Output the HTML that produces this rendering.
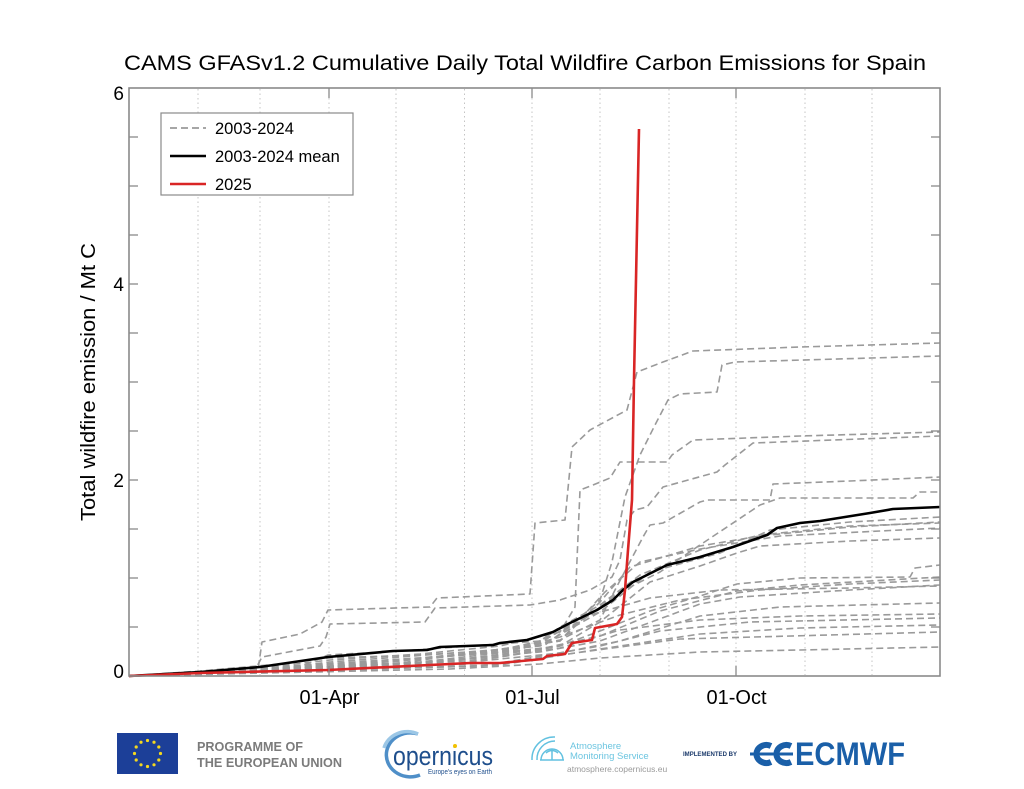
<!DOCTYPE html>
<html><head><meta charset="utf-8"><style>
html,body{margin:0;padding:0;background:#fff;}
svg{display:block;font-family:"Liberation Sans",Arial,sans-serif;}
</style></head><body>
<svg width="1024" height="789" viewBox="0 0 1024 789" xmlns="http://www.w3.org/2000/svg">
<rect width="1024" height="789" fill="#fff"/>
<text x="525" y="70" font-size="21" text-anchor="middle" textLength="802" lengthAdjust="spacingAndGlyphs" fill="#000">CAMS GFASv1.2 Cumulative Daily Total Wildfire Carbon Emissions for Spain</text>

<!-- grid -->
<g stroke="#c4c4c4" stroke-width="1" stroke-dasharray="1.5,3">
<line x1="198" y1="89" x2="198" y2="675"/>
<line x1="260" y1="89" x2="260" y2="675"/>
<line x1="329" y1="89" x2="329" y2="675"/>
<line x1="396" y1="89" x2="396" y2="675"/>
<line x1="464.5" y1="89" x2="464.5" y2="675"/>
<line x1="532" y1="89" x2="532" y2="675"/>
<line x1="600" y1="89" x2="600" y2="675"/>
<line x1="669" y1="89" x2="669" y2="675"/>
<line x1="736" y1="89" x2="736" y2="675"/>
<line x1="805" y1="89" x2="805" y2="675"/>
<line x1="872" y1="89" x2="872" y2="675"/>
</g>

<!-- gray series -->
<g fill="none" stroke="#9a9a9a" stroke-width="1.6" stroke-dasharray="7,4" stroke-linejoin="round">
<polyline points="129,676 200,674 258,670 262,642 300,634 322,622 328,610 430,607 437,598 530,594 535,523 565,520 572,447 590,430 627,410 637,372 663,362 693,351 800,347 940,343"/>
<polyline points="129,676 260,671 330,664 420,658 500,650 545,640 575,622 600,600 612,562 625,497 640,455 655,425 668,400 680,394 717,392 722,365 735,362 940,356"/>
<polyline points="129,676 260,668 330,660 420,654 500,646 560,632 575,607 580,490 593,485 610,478 620,462 667,462 672,455 693,440 800,436 940,432"/>
<polyline points="129,676 255,670 262,657 320,646 326,637 330,624 425,622 435,608 530,605 560,600 590,590 612,577 620,560 627,520 635,510 647,507 663,487 717,472 725,465 753,443 940,436"/>
<polyline points="129,676 330,666 500,652 560,640 600,620 615,590 643,537 650,525 663,523 700,502 707,500 770,500 773,484 850,481 940,477"/>
<polyline points="129,676 330,667 520,650 580,622 620,592 660,572 700,545 760,505 780,498 913,498 920,492 940,492"/>
<polyline points="129,676 400,661 540,646 600,612 650,572 720,553 770,530 850,522 940,517"/>
<polyline points="129,676 400,663 560,641 600,602 630,567 700,546 760,536 850,527 940,522"/>
<polyline points="129,676 450,656 560,641 605,592 640,562 700,549 780,536 940,528"/>
<polyline points="129,676 420,662 560,646 600,622 650,582 700,566 737,553 760,546 850,541 940,538"/>
<polyline points="129,676 330,668 500,657 560,646 600,631 650,611 700,596 737,584 800,578 910,577 915,568 940,565"/>
<polyline points="129,676 450,661 540,649 600,636 660,611 737,591 800,585 940,577"/>
<polyline points="129,676 400,664 540,652 600,641 700,604 740,597 850,590 940,585"/>
<polyline points="129,676 450,664 560,653 620,641 700,616 780,607 940,603"/>
<polyline points="129,676 500,663 600,646 660,631 750,622 940,618"/>
<polyline points="129,676 500,665 600,649 700,634 800,628 940,625"/>
<polyline points="129,676 450,669 540,664 600,658 700,652 800,650 940,647"/>
<polyline points="129,676 480,666 590,651 680,639 940,632"/>
<polyline points="129,676 300,667 328,655 400,651 470,646 540,641 560,627 600,605 640,575 700,550 760,535 850,526 940,523"/>
<polyline points="129,676 250,672 330,662 400,657 520,648 560,637 620,615 680,600 760,590 850,584 940,580"/>
<polyline points="129,676 350,668 480,660 560,648 620,630 700,620 800,616 940,614"/>
<polyline points="129,676 200,671 280,664 328,658 420,655 500,650 545,645 565,630 590,615 650,598 720,590 850,588 940,586"/>
</g>

<!-- mean -->
<polyline fill="none" stroke="#000" stroke-width="2.6" stroke-linejoin="round" points="129,676 200,672 260,667 328,657 393,651 427,650 440,647 493,645 500,643 527,640 553,632 570,623 597,610 613,600 623,590 633,582 643,577 667,565 700,557 733,547 767,535 777,528 800,523 820,521 870,513 893,509 940,507"/>

<!-- 2025 -->
<polyline fill="none" stroke="#d92525" stroke-width="2.6" stroke-linejoin="round" points="129,676 200,673 328,670 470,663 500,663 543,659 547,656 565,654 572,643 592,640 595,628 617,624 622,617 625,590 628,550 632,500 634,380 639,129"/>

<!-- frame -->
<rect x="129" y="88" width="811" height="588" fill="none" stroke="#8a8a8a" stroke-width="1.6"/>
<g stroke="#8a8a8a" stroke-width="1.3">
<line x1="129" y1="676" x2="138" y2="676"/><line x1="129" y1="627" x2="138" y2="627"/><line x1="129" y1="578" x2="138" y2="578"/><line x1="129" y1="529" x2="138" y2="529"/><line x1="129" y1="480" x2="138" y2="480"/><line x1="129" y1="431" x2="138" y2="431"/><line x1="129" y1="382" x2="138" y2="382"/><line x1="129" y1="333" x2="138" y2="333"/><line x1="129" y1="284" x2="138" y2="284"/><line x1="129" y1="235" x2="138" y2="235"/><line x1="129" y1="186" x2="138" y2="186"/><line x1="129" y1="137" x2="138" y2="137"/>
<line x1="931" y1="627" x2="940" y2="627"/><line x1="931" y1="578" x2="940" y2="578"/><line x1="931" y1="529" x2="940" y2="529"/><line x1="931" y1="480" x2="940" y2="480"/><line x1="931" y1="431" x2="940" y2="431"/><line x1="931" y1="382" x2="940" y2="382"/><line x1="931" y1="333" x2="940" y2="333"/><line x1="931" y1="284" x2="940" y2="284"/><line x1="931" y1="235" x2="940" y2="235"/><line x1="931" y1="186" x2="940" y2="186"/><line x1="931" y1="137" x2="940" y2="137"/>
<line x1="329" y1="676" x2="329" y2="666"/><line x1="532" y1="676" x2="532" y2="666"/><line x1="736" y1="676" x2="736" y2="666"/>
<line x1="329" y1="88" x2="329" y2="98"/><line x1="532" y1="88" x2="532" y2="98"/><line x1="736" y1="88" x2="736" y2="98"/>
</g>

<!-- tick labels -->
<g font-size="19" fill="#000" text-anchor="end">
<text x="124" y="678">0</text>
<text x="124" y="487">2</text>
<text x="124" y="291">4</text>
<text x="124" y="100">6</text>
</g>
<g font-size="20" fill="#000" text-anchor="middle">
<text x="329.5" y="704">01-Apr</text>
<text x="532.5" y="704">01-Jul</text>
<text x="736.5" y="704">01-Oct</text>
</g>
<text transform="translate(95,382) rotate(-90)" font-size="20" text-anchor="middle" textLength="278" lengthAdjust="spacingAndGlyphs" fill="#000">Total wildfire emission / Mt C</text>

<!-- legend -->
<rect x="161" y="113" width="192" height="82" fill="#fff" stroke="#8a8a8a" stroke-width="1.2"/>
<line x1="170" y1="128" x2="206" y2="128" stroke="#9a9a9a" stroke-width="1.8" stroke-dasharray="7,4"/>
<line x1="170" y1="156" x2="206" y2="156" stroke="#000" stroke-width="2.6"/>
<line x1="170" y1="184" x2="206" y2="184" stroke="#d92525" stroke-width="2.6"/>
<g font-size="16.5" fill="#000">
<text x="215" y="134">2003-2024</text>
<text x="215" y="162">2003-2024 mean</text>
<text x="215" y="190">2025</text>
</g>

<!-- logos -->
<rect x="117" y="733" width="61" height="41" fill="#1c3f98"/>
<g fill="#f4d81e">
<circle cx="147.5" cy="740.5" r="1.6"/><circle cx="154" cy="742.2" r="1.6"/><circle cx="158.8" cy="747" r="1.6"/><circle cx="160.5" cy="753.5" r="1.6"/><circle cx="158.8" cy="760" r="1.6"/><circle cx="154" cy="764.8" r="1.6"/><circle cx="147.5" cy="766.5" r="1.6"/><circle cx="141" cy="764.8" r="1.6"/><circle cx="136.2" cy="760" r="1.6"/><circle cx="134.5" cy="753.5" r="1.6"/><circle cx="136.2" cy="747" r="1.6"/><circle cx="141" cy="742.2" r="1.6"/>
</g>
<g font-size="13" font-weight="bold" fill="#7b7b7b">
<text x="197" y="751" textLength="106" lengthAdjust="spacingAndGlyphs">PROGRAMME OF</text>
<text x="197" y="767" textLength="145" lengthAdjust="spacingAndGlyphs">THE EUROPEAN UNION</text>
</g>

<path d="M 418 734 A 24 22 0 1 0 420 775" fill="none" stroke="#4f8fc8" stroke-width="3.5"/>
<path d="M 418 734 A 24 22 0 0 0 384 748" fill="none" stroke="#9cc7e6" stroke-width="3.5"/>
<text x="393" y="765" font-size="27" fill="#1e4e8c" textLength="100" lengthAdjust="spacingAndGlyphs">opernicus</text>
<circle cx="455" cy="746" r="2" fill="#f2c200"/>
<text x="428" y="774" font-size="7.5" fill="#1e4e8c" textLength="64" lengthAdjust="spacingAndGlyphs">Europe's eyes on Earth</text>

<g fill="none" stroke="#62c1e0" stroke-width="1.5">
<path d="M 555 737 A 22 22 0 0 0 532 760"/>
<path d="M 555 741 A 18 18 0 0 0 537 760"/>
<path d="M 541 760 A 11 11 0 0 1 563 760"/>
<line x1="540" y1="760" x2="564" y2="760"/>
<path d="M 552 749 L 552 760 M 546 753 Q 552 748 558 753"/>
</g>
<text x="570" y="749" font-size="9.5" fill="#6cc5e0">Atmosphere</text>
<text x="570" y="759" font-size="9.5" fill="#6cc5e0">Monitoring Service</text>
<text x="567" y="772" font-size="8.5" fill="#9a9a9a">atmosphere.copernicus.eu</text>

<text x="683" y="756" font-size="6.5" font-weight="bold" fill="#1b3a6b" textLength="54" lengthAdjust="spacingAndGlyphs">IMPLEMENTED BY</text>
<g fill="none" stroke="#1a5fa8" stroke-width="6">
<path d="M 771 746 A 10 9 0 1 0 771 762"/>
<path d="M 791 746 A 10 9 0 1 0 791 762"/>
</g>
<line x1="750" y1="754" x2="793" y2="754" stroke="#1a5fa8" stroke-width="3"/>
<text x="795" y="765" font-size="32" font-weight="bold" fill="#1a5fa8" textLength="110" lengthAdjust="spacingAndGlyphs">ECMWF</text>
</svg>
</body></html>
